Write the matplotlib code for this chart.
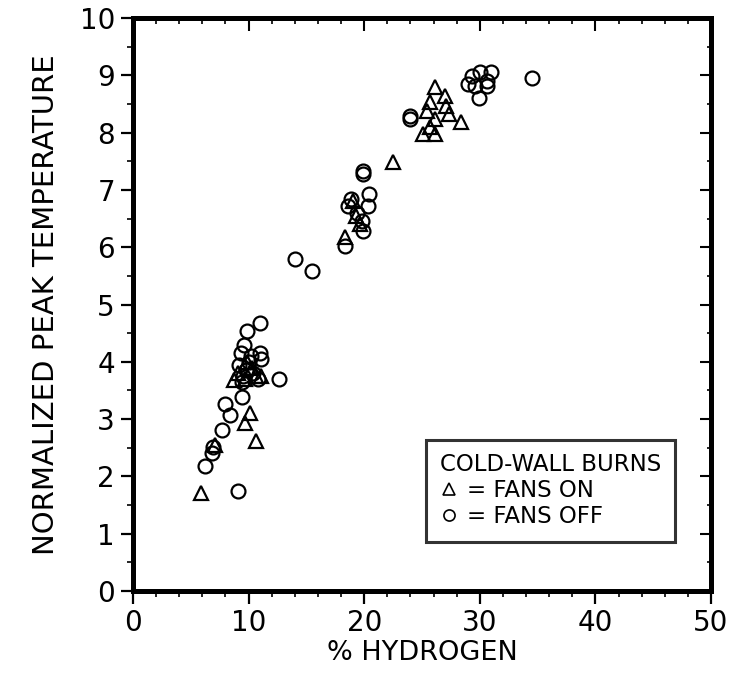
import matplotlib
matplotlib.use("Agg")
import matplotlib.pyplot as plt
from matplotlib.lines import Line2D
from matplotlib.ticker import MultipleLocator

# Fans ON (triangles)
on_x = [5.9, 7.1, 9.7, 10.1, 10.6, 8.7, 9.1, 9.7, 10.3, 10.6, 9.9, 11.1,
        18.3, 19.3, 19.6, 19.0, 22.5,
        26.1, 27.0, 25.7, 27.1, 25.4, 27.3, 28.4, 26.1, 25.1, 26.1, 25.7]
on_y = [1.71, 2.55, 2.94, 3.11, 2.61, 3.68, 3.80, 3.70, 3.90, 3.75, 4.00, 3.75,
        6.17, 6.55, 6.40, 6.80, 7.48,
        8.79, 8.64, 8.53, 8.47, 8.38, 8.32, 8.18, 8.23, 7.97, 7.97, 8.09]

# Fans OFF (circles)
off_x = [11.0, 9.9, 12.6, 9.4, 8.0, 8.4, 7.7, 6.9, 6.8, 6.2, 9.1,
         9.3, 9.6, 9.2, 9.8, 9.5, 10.0, 10.4, 11.0, 11.1, 10.8, 9.4, 10.2,
         14.0, 15.5, 18.3, 19.9, 19.9, 18.9, 18.6, 20.4, 20.3, 19.8, 19.9, 19.4,
         24.0, 24.0, 29.3, 30.0, 31.0, 29.0, 29.6, 30.6, 29.9, 30.6, 34.5]
off_y = [4.67, 4.53, 3.70, 3.39, 3.27, 3.08, 2.81, 2.52, 2.40, 2.19, 1.74,
         4.15, 4.30, 3.95, 3.85, 3.75, 4.00, 3.80, 4.15, 4.05, 3.70, 3.65, 4.10,
         5.79, 5.58, 6.02, 7.33, 7.27, 6.84, 6.72, 6.92, 6.72, 6.46, 6.28, 6.60,
         8.29, 8.24, 8.99, 9.05, 9.05, 8.85, 8.82, 8.82, 8.61, 8.90, 8.96]

x_ticks = [0, 10, 20, 30, 40, 50]
y_ticks = list(range(0, 11))

fig = plt.figure(figsize=(7.32, 6.93), dpi=100)
ax = fig.add_axes([0.1817, 0.1472, 0.9713 - 0.1817, 0.974 - 0.1472])

ax.plot(on_x, on_y, linestyle="none", marker="^", markersize=10,
        markerfacecolor="none", markeredgecolor="black", markeredgewidth=1.6)
ax.plot(off_x, off_y, linestyle="none", marker="o", markersize=10,
        markerfacecolor="none", markeredgecolor="black", markeredgewidth=1.6)

ax.set_xlim(0, 50)
ax.set_ylim(0, 10)
ax.set_xticks(x_ticks)
ax.set_yticks(y_ticks)
ax.xaxis.set_minor_locator(MultipleLocator(2))
ax.yaxis.set_minor_locator(MultipleLocator(0.5))
ax.tick_params(axis="both", which="major", direction="out", length=9, width=1.6,
               labelsize=20, pad=4)
ax.tick_params(axis="both", which="minor", direction="out", length=4, width=1.2)

for s in ax.spines.values():
    s.set_linewidth(3.6)

top = ax.secondary_xaxis("top")
top.set_xticks(x_ticks)
top.xaxis.set_minor_locator(MultipleLocator(2))
top.tick_params(which="major", direction="in", length=9, width=1.5, labeltop=False)
top.tick_params(which="minor", direction="in", length=4, width=1.2)
top.spines["top"].set_linewidth(3.6)

right = ax.secondary_yaxis("right")
right.set_yticks(y_ticks)
right.yaxis.set_minor_locator(MultipleLocator(0.5))
right.tick_params(which="major", direction="in", length=8, width=1.5, labelright=False)
right.tick_params(which="minor", direction="in", length=3, width=1.2)
right.spines["right"].set_linewidth(3.6)

ax.set_xlabel("% HYDROGEN", fontsize=19.5, labelpad=2)
ax.set_ylabel("NORMALIZED PEAK TEMPERATURE", fontsize=21, labelpad=14)

handles = [
    Line2D([], [], linestyle="none", marker="^", markersize=8, markerfacecolor="none",
           markeredgecolor="black", markeredgewidth=1.2),
    Line2D([], [], linestyle="none", marker="o", markersize=8, markerfacecolor="none",
           markeredgecolor="black", markeredgewidth=1.2),
]
leg = ax.legend(handles, ["= FANS ON", "= FANS OFF"], title="COLD-WALL BURNS",
                loc="upper left", bbox_to_anchor=(0.507, 0.264), borderaxespad=0,
                fontsize=16.5, title_fontsize=16.5, frameon=True, fancybox=False,
                edgecolor="black", handlelength=0.8, handletextpad=0.4,
                labelspacing=0.12, borderpad=0.6, alignment="left")
leg.get_frame().set_linewidth(2.2)

fig.savefig("out.png", dpi=100)
